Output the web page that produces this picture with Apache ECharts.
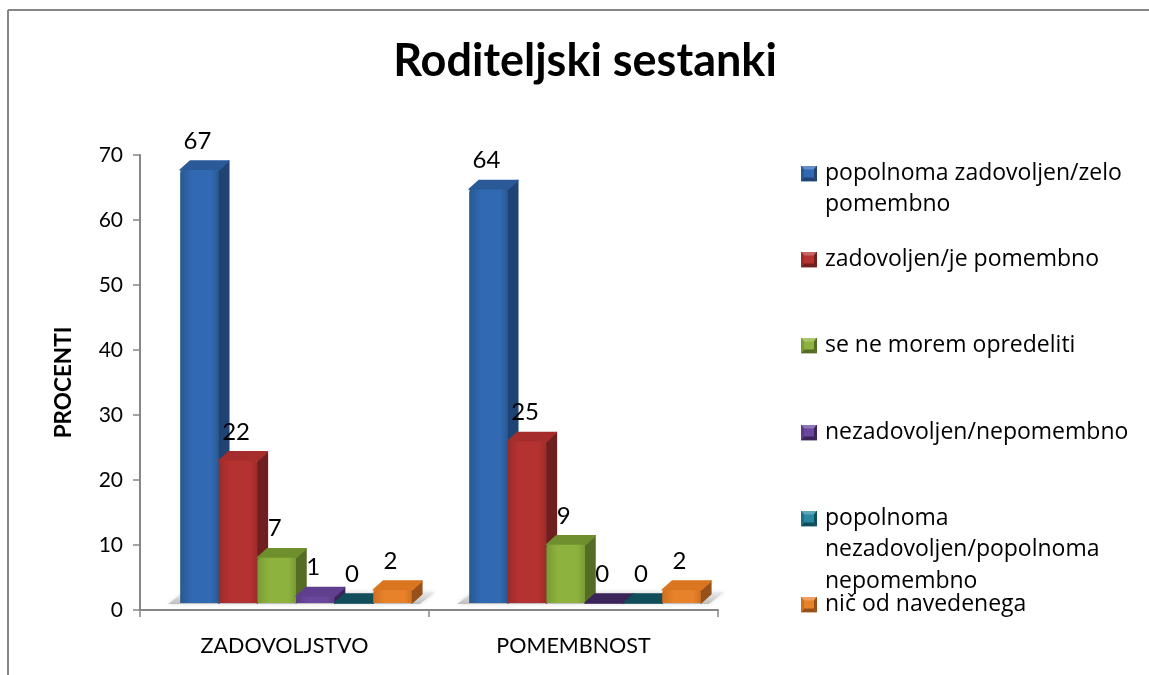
<!DOCTYPE html>
<html>
<head>
<meta charset="utf-8">
<style>
  html, body { margin: 0; padding: 0; background: #fff; }
  #main { width: 1149px; height: 675px; }
</style>
<script src="https://cdn.jsdelivr.net/npm/echarts@6/dist/echarts.min.js"></script>
</head>
<body>
<div id="main"></div>
<script>
// data
const categories = ['ZADOVOLJSTVO', 'POMEMBNOST']
const popolnomaZadovoljen = [67, 64]
const zadovoljen = [22, 25]
const neMorem = [7, 9]
const nezadovoljen = [1, 0]
const popolnomaNezadovoljen = [0, 0]
const nicOd = [2, 2]
const yTicks = [0, 10, 20, 30, 40, 50, 60, 70]
const legendLines = [
  ['popolnoma zadovoljen/zelo', 'pomembno'],
  ['zadovoljen/je pomembno'],
  ['se ne morem opredeliti'],
  ['nezadovoljen/nepomembno'],
  ['popolnoma', 'nezadovoljen/popolnoma', 'nepomembno'],
  ['nič od navedenega']
]

const seriesValues = [popolnomaZadovoljen, zadovoljen, neMorem, nezadovoljen, popolnomaNezadovoljen, nicOd]
const seriesNames = legendLines.map(l => l.join(' '))
// front edge, front middle, side, top
const palette = [
  ['#28598f', '#3169b2', '#1f4474', '#2a5a98'],
  ['#9c2b2b', '#b43331', '#6f1f1e', '#a52d2c'],
  ['#7a9a35', '#8db33e', '#556c25', '#6f8f2f'],
  ['#5b3c86', '#6a479c', '#3a2459', '#5f3f8e'],
  ['#1f6f85', '#2a87a0', '#114d5b', '#125563'],
  ['#cf7020', '#e8822a', '#96501a', '#d9761f']
]
const legendTops = [162, 248, 334, 421, 507, 593]

const DEPTH_X = 10
const DEPTH_Y = 9
const BAR_SHARE = 0.1336
const GROUP_SHIFT = 11.5

function renderBar (seriesIdx) {
  return function (params, api) {
    const cat = api.value(0)
    const val = api.value(1)
    const band = api.size([1, 0])[0]
    const w = band * BAR_SHARE
    const centre = api.coord([cat, 0])[0] + GROUP_SHIFT
    const x0 = centre - 3 * w + seriesIdx * w
    const x1 = x0 + w
    const yBase = api.coord([cat, 0])[1]
    const yTop = api.coord([cat, val])[1]
    const c = palette[seriesIdx]
    const topFill = val > 0 ? c[3] : c[2]
    const children = []
    // side
    children.push({
      type: 'polygon',
      shape: { points: [[x1, yBase], [x1, yTop], [x1 + DEPTH_X, yTop - DEPTH_Y], [x1 + DEPTH_X, yBase - DEPTH_Y]] },
      style: { fill: c[2], stroke: c[2], lineWidth: 1.5, lineJoin: 'round' }
    })
    // top
    children.push({
      type: 'polygon',
      shape: { points: [[x0, yTop], [x0 + DEPTH_X, yTop - DEPTH_Y], [x1 + DEPTH_X, yTop - DEPTH_Y], [x1, yTop]] },
      style: { fill: topFill, stroke: topFill, lineWidth: 1.5, lineJoin: 'round' }
    })
    // front
    if (val > 0) {
      children.push({
        type: 'rect',
        shape: { x: x0, y: yTop, width: w, height: yBase - yTop, r: [3, 3, 0, 0] },
        style: {
          fill: new echarts.graphic.LinearGradient(0, 0, 1, 0, [
            { offset: 0, color: c[0] },
            { offset: 0.3, color: c[1] },
            { offset: 0.8, color: c[1] },
            { offset: 1, color: c[0] }
          ])
        }
      })
    }
    // value label
    children.push({
      type: 'text',
      style: {
        x: (x0 + x1) / 2 - 2,
        y: yTop - DEPTH_Y - 20,
        text: String(val),
        fill: '#000',
        font: '24px Lato',
        textAlign: 'center',
        textVerticalAlign: 'middle'
      }
    })
    return { type: 'group', children: children }
  }
}

function renderFloor (params, api) {
  const cat = api.value(0)
  const band = api.size([1, 0])[0]
  const w = band * BAR_SHARE
  const centre = api.coord([cat, 0])[0] + GROUP_SHIFT
  const yBase = api.coord([cat, 0])[1]
  return {
    type: 'polygon',
    shape: {
      points: [
        [centre - 3 * w - 12, yBase + 1],
        [centre - 3 * w + 4, yBase - 11],
        [centre + 3 * w + 23, yBase - 11],
        [centre + 3 * w + 8, yBase + 1]
      ]
    },
    style: {
      fill: new echarts.graphic.LinearGradient(0, 1, 0, 0, [
        { offset: 0, color: '#bdbdbd' },
        { offset: 1, color: '#ececec' }
      ]),
      shadowBlur: 4,
      shadowColor: '#dddddd'
    }
  }
}

function legendIcon (c) {
  const svg = '<svg xmlns="http://www.w3.org/2000/svg" width="16" height="16">' +
    '<rect width="16" height="16" fill="' + c[1] + '"/>' +
    '<polygon points="0,0 16,0 8,7" fill="' + c[1] + '" opacity="0.75"/>' +
    '<polygon points="0,0 16,0 13,4 3,4" fill="#fff" opacity="0.25"/>' +
    '<polygon points="0,16 16,16 13,12 3,12" fill="' + c[2] + '"/>' +
    '<polygon points="0,0 3,4 3,12 0,16" fill="' + c[0] + '"/>' +
    '<polygon points="16,0 13,4 13,12 16,16" fill="' + c[2] + '"/>' +
    '</svg>'
  return 'image://data:image/svg+xml;charset=utf-8,' + encodeURIComponent(svg)
}

const series = [{
  name: 'floor',
  type: 'custom',
  yAxisIndex: 1,
  z: 1,
  silent: true,
  renderItem: renderFloor,
  data: categories.map((c, i) => [i])
}]
seriesNames.forEach((name, i) => {
  series.push({
    name: name,
    type: 'custom',
    yAxisIndex: 1,
    z: 2 + i,
    itemStyle: { color: palette[i][1] },
    renderItem: renderBar(i),
    data: seriesValues[i].map((v, k) => [k, v])
  })
})

// continuation lines of the wrapped legend entries
const legendExtra = []
legendLines.forEach((lines, i) => {
  lines.slice(1).forEach((line, k) => {
    legendExtra.push({
      type: 'text',
      left: 825,
      top: legendTops[i] + (k + 1) * 32 - 1,
      style: { text: line, fill: '#000', font: '23px "Open Sans"' }
    })
  })
})

const option = {
  animation: false,
  backgroundColor: '#fff',
  title: {
    text: 'Roditeljski sestanki',
    left: 580,
    top: 34,
    textAlign: 'center',
    textStyle: { fontFamily: 'Lato', fontSize: 45, fontWeight: 'bold', color: '#000' }
  },
  grid: { left: 140, top: 155, width: 578, height: 455 },
  xAxis: {
    type: 'category',
    data: categories,
    axisLine: { lineStyle: { color: '#868686', width: 2 } },
    axisTick: { show: true, length: 7, lineStyle: { color: '#868686', width: 1.5 } },
    axisLabel: { color: '#000', fontFamily: 'Lato', fontSize: 21.5, margin: 25 }
  },
  yAxis: [{
    type: 'value',
    min: 0,
    max: 70,
    interval: 10,
    name: 'PROCENTI',
    nameLocation: 'middle',
    nameGap: 65,
    nameTextStyle: { color: '#000', fontFamily: 'Lato', fontSize: 22.5, fontWeight: 'bold' },
    splitLine: { show: false },
    axisLine: { show: true, lineStyle: { color: '#868686', width: 2 } },
    axisTick: { show: true, length: 7, lineStyle: { color: '#868686', width: 1.5 } },
    axisLabel: {
      color: '#000',
      fontFamily: 'Lato',
      fontSize: 21,
      margin: 17,
      formatter: v => (yTicks.indexOf(v) >= 0 ? String(v) : '')
    }
  }, {
    // the bars stand on a floor a little above the axis line, on a slightly tighter scale
    type: 'value',
    show: false,
    min: -1.083,
    max: 69.32
  }],
  legend: seriesNames.map((name, i) => ({
    data: [{ name: name, icon: legendIcon(palette[i]) }],
    left: 801,
    top: legendTops[i],
    padding: 0,
    itemWidth: 16,
    itemHeight: 16,
    itemGap: 0,
    selectedMode: false,
    formatter: () => legendLines[i][0],
    textStyle: { color: '#000', fontFamily: 'Open Sans', fontSize: 23, padding: [0, 0, 0, 3] }
  })),
  graphic: [
    { type: 'line', shape: { x1: 8, y1: 10, x2: 1149, y2: 10 }, style: { stroke: '#868686', lineWidth: 2 } },
    { type: 'line', shape: { x1: 8, y1: 10, x2: 8, y2: 675 }, style: { stroke: '#868686', lineWidth: 2 } }
  ].concat(legendExtra),
  series: series
}

const chart = echarts.init(document.getElementById('main'))
chart.setOption(option)
</script>
</body>
</html>
